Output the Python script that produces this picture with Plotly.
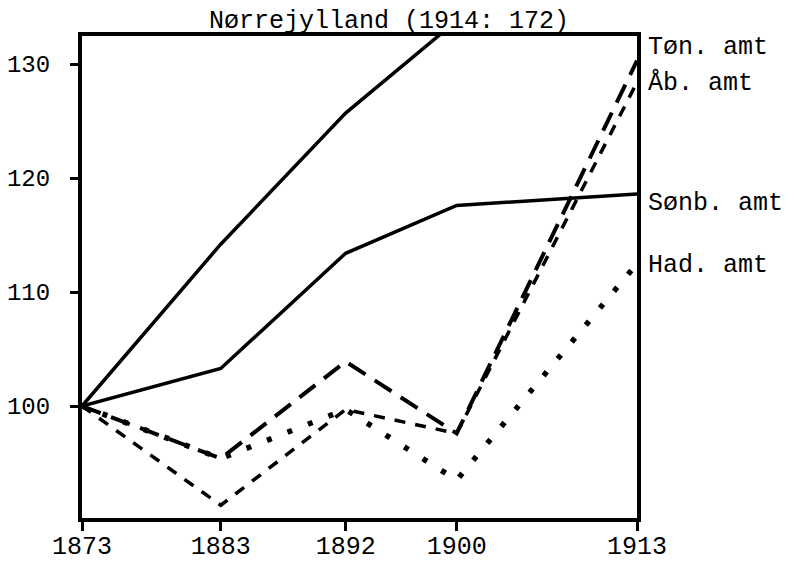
import plotly.graph_objects as go

years = [1873, 1883, 1892, 1900, 1913]
norrejylland = [100, 114.2, 125.7, 133.8, 170]
ton_amt = [100, 95.4, 103.9, 97.6, 130.3]
ab_amt = [100, 91.3, 99.7, 97.6, 128.4]
sonb_amt = [100, 103.3, 113.4, 117.6, 118.6]
had_amt = [100, 95.4, 99.7, 93.5, 112.5]
yticks = [100, 110, 120, 130]

FONT = "Liberation Mono, DejaVu Sans Mono, monospace"

fig = go.Figure()
series = [
    (norrejylland, "solid", 3.5),
    (sonb_amt, "solid", 3.5),
    (ton_amt, "20px,11px", 4),
    (ab_amt, "11px,10px", 3.5),
    (had_amt, "5px,17px", 5.5),
]
for vals, dash, w in series:
    fig.add_trace(go.Scatter(x=years, y=vals, mode="lines",
                             line=dict(color="black", width=w, dash=dash),
                             showlegend=False, hoverinfo="skip"))

labels = [("Tøn. amt", 0.977), ("Åb. amt", 0.902), ("Sønb. amt", 0.653), ("Had. amt", 0.523)]
for txt, py in labels:
    fig.add_annotation(text=txt, xref="paper", yref="paper", x=1, y=py,
                       xanchor="left", yanchor="middle", xshift=9,
                       showarrow=False, font=dict(family=FONT, size=25, color="black"))

fig.add_annotation(text="Nørrejylland (1914: 172)", xref="paper", yref="paper",
                   x=0.553, y=1, xanchor="center", yanchor="bottom", yshift=-2,
                   showarrow=False, font=dict(family=FONT, size=25, color="black"))

# page body has an 8px margin, so the figure is sized/margined to compensate
fig.update_layout(
    width=787, height=553,
    margin=dict(l=74, r=158, t=28, b=43, autoexpand=False),
    paper_bgcolor="white", plot_bgcolor="white",
)
fig.update_xaxes(range=[1873, 1913], tickvals=years, ticktext=[str(y) for y in years],
                 automargin=False, ticklabelstandoff=-7,
                 showgrid=False, zeroline=False, showline=True, linecolor="black",
                 linewidth=4, mirror=True, ticks="outside", ticklen=9, tickwidth=3,
                 tickcolor="black", tickfont=dict(family=FONT, size=25, color="black"))
fig.update_yaxes(range=[90.18, 132.46], tickvals=yticks, ticktext=[str(v) for v in yticks],
                 automargin=False,
                 showgrid=False, zeroline=False, showline=True, linecolor="black",
                 linewidth=4, mirror=True, ticks="outside", ticklen=8, tickwidth=3,
                 tickcolor="black", ticklabelstandoff=15,
                 tickfont=dict(family=FONT, size=24, color="black"))

fig.write_html("out.html")
